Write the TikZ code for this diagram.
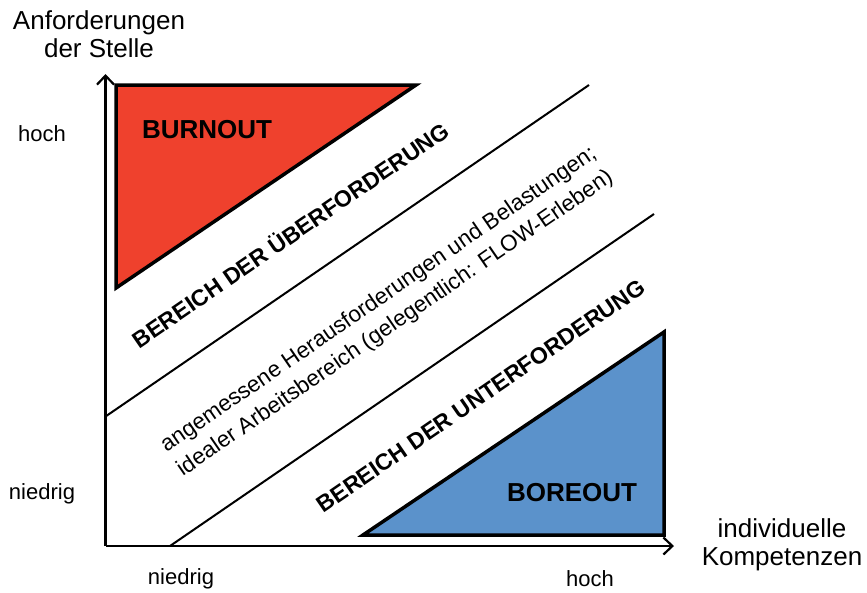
\documentclass[tikz,border=0pt]{standalone}
\usepackage{fontspec}
\setmainfont{Liberation Sans}
\usetikzlibrary{arrows.meta}
\definecolor{burnred}{RGB}{239,65,45}
\definecolor{boreblue}{RGB}{91,146,203}
\tikzset{
  axis/.style={line width=2.2pt,-{Straight Barb[length=9pt,width=17pt,line width=2.2pt]}},
  tri/.style={line width=3.5pt,line join=miter,draw=black},
  divider/.style={line width=2pt},
  axlabel/.style={font=\fontsize{26}{28}\selectfont,align=center,inner sep=0pt},
  ticklabel/.style={font=\fontsize{22}{24}\selectfont,inner sep=0pt},
  bigbold/.style={font=\fontsize{26}{28}\selectfont\bfseries,inner sep=0pt},
  zonebold/.style={font=\fontsize{23}{25}\selectfont\bfseries,inner sep=0pt,rotate=34.5},
  zonetext/.style={font=\fontsize{22.5}{29}\selectfont,align=center,inner sep=0pt,rotate=34.5}
}
\begin{document}
\begin{tikzpicture}[x=1pt,y=-1pt]
\useasboundingbox (0,0) rectangle (867,592);
% coordinates
\coordinate (O) at (105.5,546);
\coordinate (Ytip) at (105.5,74);
\coordinate (Xtip) at (674,546);
\coordinate (L1a) at (105.5,416.5);
\coordinate (L1b) at (589,85);
\coordinate (L2a) at (170,546);
\coordinate (L2b) at (654,214);
\coordinate (R1) at (116,85);
\coordinate (R2) at (416,85);
\coordinate (R3) at (116,288);
\coordinate (B1) at (363,535);
\coordinate (B2) at (664,535);
\coordinate (B3) at (664,332);
% triangles
\filldraw[tri,fill=burnred] (R1) -- (R2) -- (R3) -- cycle;
\filldraw[tri,fill=boreblue] (B1) -- (B2) -- (B3) -- cycle;
% divider lines
\draw[divider] (L1a) -- (L1b);
\draw[divider] (L2a) -- (L2b);
% axes
\draw[axis] (O) -- (Ytip);
\draw[axis] (O) -- (Xtip);
% labels
\node[axlabel] (ytitle) at (99,34) {Anforderungen\\der Stelle};
\node[axlabel] (xtitle) at (782,545) {individuelle\\Kompetenzen};
\node[ticklabel] (yhigh) at (42,134) {hoch};
\node[ticklabel] (ylow) at (42,494) {niedrig};
\node[ticklabel] (xlow) at (181,579) {niedrig};
\node[ticklabel] (xhigh) at (590,579) {hoch};
\node[bigbold] (burn) at (207,130) {BURNOUT};
\node[bigbold] (bore) at (572,493) {BOREOUT};
\node[zonebold] (over) at (290,234) {BEREICH DER ÜBERFORDERUNG};
\node[zonebold] (under) at (481,396) {BEREICH DER UNTERFORDERUNG};
\node[zonetext] (mid) at (387,312) {angemessene Herausforderungen und Belastungen;\\idealer Arbeitsbereich (gelegentlich: FLOW-Erleben)};
\end{tikzpicture}
\end{document}
